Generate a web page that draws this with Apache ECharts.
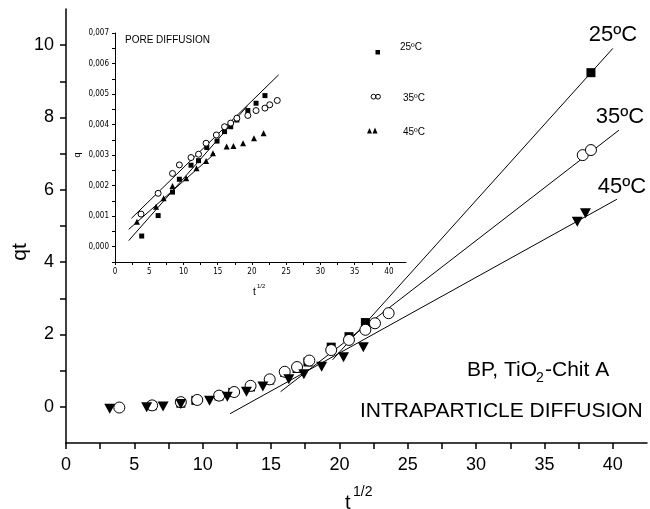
<!DOCTYPE html>
<html>
<head>
<meta charset="utf-8">
<title>Intraparticle diffusion</title>
<script src="https://cdn.jsdelivr.net/npm/echarts@6/dist/echarts.min.js"></script>
<style>
  html, body { margin: 0; padding: 0; background: #fff; }
  #chart { width: 650px; height: 509px; }
</style>
</head>
<body>
<div id="chart"></div>
<script>
// main plot: qt vs t^1/2
var main25 = [[6.3,0.03],[8.4,0.10],[9.5,0.18],[11.2,0.30],[12.2,0.40],[13.5,0.55],[14.9,0.74],[16.0,0.95],[16.9,1.06],[17.7,1.24],[19.4,1.65],[20.7,1.94],[21.9,2.33],[38.4,9.24]];
var main35 = [[3.9,-0.02],[6.3,0.04],[8.4,0.13],[9.6,0.19],[11.2,0.31],[12.3,0.41],[13.5,0.58],[14.9,0.76],[16.0,0.97],[16.9,1.10],[17.8,1.28],[19.4,1.57],[20.7,1.85],[21.9,2.13],[22.6,2.31],[23.6,2.59],[37.8,6.96],[38.4,7.10]];
var main45 = [[3.2,-0.05],[5.9,-0.01],[7.1,0.01],[8.4,0.08],[10.5,0.17],[11.8,0.28],[13.2,0.42],[14.4,0.56],[16.3,0.76],[17.4,0.90],[18.7,1.11],[20.3,1.37],[21.75,1.65],[37.4,5.12],[38.0,5.35]];
var fit25 = [[19.5,1.30],[40.0,9.91]];
var fit35 = [[15.7,0.42],[40.45,7.65]];
var fit45 = [[12.0,-0.19],[40.3,5.74]];

// inset: q vs t^1/2 (pore diffusion)
var pore25 = [[3.9,0.00035],[6.3,0.00102],[8.4,0.00179],[9.4,0.00221],[11.1,0.00267],[12.2,0.00282],[13.4,0.00325],[14.9,0.00346],[16.0,0.00377],[16.9,0.00393],[17.8,0.00415],[19.4,0.00446],[20.6,0.00470],[21.9,0.00495]];
var pore35 = [[3.8,0.00107],[6.3,0.00175],[8.4,0.00240],[9.4,0.00268],[11.1,0.00292],[12.2,0.00303],[13.3,0.00339],[14.8,0.00366],[16.0,0.00393],[16.9,0.00405],[17.8,0.00421],[19.4,0.00430],[20.6,0.00446],[21.9,0.00454],[22.6,0.00465],[23.7,0.00479]];
var pore45 = [[3.2,0.00082],[6.0,0.00131],[7.1,0.00159],[8.4,0.00199],[10.4,0.00224],[11.9,0.00257],[13.3,0.00281],[14.3,0.00306],[16.3,0.00328],[17.3,0.00330],[18.7,0.00339],[20.3,0.00355],[21.7,0.00372]];
var poreFit25 = [[2.0,0.0002],[19.3,0.0046]];
var poreFit35 = [[2.4,0.00093],[23.9,0.00563]];
var poreFit45 = [[2.0,0.00057],[14.6,0.00306]];

var font = '"Liberation Sans", Arial, sans-serif';
var narrow = '"Liberation Sans Narrow", "DejaVu Sans Condensed", Arial, sans-serif';

var chart = echarts.init(document.getElementById('chart'));

function fitLine(data, xi, yi) {
  return {
    type: 'line', xAxisIndex: xi, yAxisIndex: yi, data: data,
    symbol: 'none', silent: true, z: 1,
    lineStyle: { color: '#000', width: 1 }
  };
}
function pts(data, xi, yi, sym, size, filled, rot, z) {
  return {
    type: 'scatter', xAxisIndex: xi, yAxisIndex: yi, data: data,
    symbol: sym, symbolSize: size, symbolRotate: rot || 0, z: z,
    itemStyle: filled ? { color: '#000', opacity: 1 } : { color: '#fff', borderColor: '#000', borderWidth: 1, opacity: 1 }
  };
}

var option = {
  animation: false,
  backgroundColor: '#fff',
  textStyle: { fontFamily: font },
  grid: [
    { left: 66, right: 3, top: 9, bottom: 66 },
    { left: 115, right: 244, top: 33, bottom: 247 }
  ],
  xAxis: [{
    gridIndex: 0, type: 'value', min: 0, max: 42.5, interval: 2.5,
    splitLine: { show: false },
    axisLine: { onZero: false, lineStyle: { color: '#000', width: 1.5 } },
    axisTick: { inside: false, length: 6, lineStyle: { color: '#000', width: 1.5 } },
    axisLabel: {
      color: '#000', fontSize: 18, margin: 13, showMaxLabel: false,
      formatter: function (v) { return v % 5 === 0 ? String(v) : ''; }
    }
  }, {
    gridIndex: 1, type: 'value', min: 0, max: 42.5, interval: 2.5,
    splitLine: { show: false },
    axisLine: { onZero: false, lineStyle: { color: '#000', width: 1 } },
    axisTick: { length: 3, lineStyle: { color: '#000' } },
    axisLabel: {
      color: '#000', fontSize: 8, margin: 6, fontFamily: narrow, showMaxLabel: false,
      formatter: function (v) { return v % 5 === 0 ? String(v) : ''; }
    }
  }],
  yAxis: [{
    gridIndex: 0, type: 'value', min: -1, max: 11, interval: 1,
    splitLine: { show: false },
    axisLine: { onZero: false, lineStyle: { color: '#000', width: 1.5 } },
    axisTick: { length: 6, lineStyle: { color: '#000', width: 1.5 } },
    axisLabel: {
      color: '#000', fontSize: 18, margin: 12, showMaxLabel: false, showMinLabel: false,
      formatter: function (v) { return v % 2 === 0 ? String(v) : ''; }
    }
  }, {
    gridIndex: 1, type: 'value', min: -0.0005, max: 0.007, interval: 0.0005,
    splitLine: { show: false },
    axisLine: { onZero: false, lineStyle: { color: '#000', width: 1 } },
    axisTick: { length: 3, lineStyle: { color: '#000' } },
    axisLabel: {
      color: '#000', fontSize: 8, margin: 6, fontFamily: narrow,
      formatter: function (v) {
        var k = Math.round(v * 2000);
        if (k % 2 !== 0 || k < 0) return '';
        return v.toFixed(3).replace('.', ',');
      }
    }
  }],
  series: [
    fitLine(fit25, 0, 0), fitLine(fit35, 0, 0), fitLine(fit45, 0, 0),
    pts(main25, 0, 0, 'rect', 9, true, 0, 2),
    pts(main35, 0, 0, 'circle', 11, false, 0, 3),
    pts(main45, 0, 0, 'triangle', [11, 10], true, 180, 4),
    fitLine(poreFit25, 1, 1), fitLine(poreFit35, 1, 1), fitLine(poreFit45, 1, 1),
    pts(pore25, 1, 1, 'rect', 5, true, 0, 2),
    pts(pore35, 1, 1, 'circle', 6, false, 0, 3),
    pts(pore45, 1, 1, 'triangle', 6, true, 0, 4)
  ],
  graphic: [
    // main labels
    { type: 'text', x: 20, y: 252, rotation: Math.PI / 2, style: { text: 'qt', font: '21px ' + font, fill: '#000', align: 'center', verticalAlign: 'middle' } },
    { type: 'text', x: 345, y: 503, style: { text: 't', font: '20px ' + font, fill: '#000', verticalAlign: 'middle' } },
    { type: 'text', x: 353, y: 492, style: { text: '1/2', font: '14px ' + font, fill: '#000', verticalAlign: 'middle' } },
    { type: 'text', x: 613, y: 35, style: { text: '25ºC', font: '22px ' + font, fill: '#000', align: 'center', verticalAlign: 'middle' } },
    { type: 'text', x: 620, y: 117, style: { text: '35ºC', font: '22px ' + font, fill: '#000', align: 'center', verticalAlign: 'middle' } },
    { type: 'text', x: 622, y: 187, style: { text: '45ºC', font: '22px ' + font, fill: '#000', align: 'center', verticalAlign: 'middle' } },
    { type: 'text', x: 467, y: 370, style: { text: 'BP, TiO', font: '21px ' + font, fill: '#000', verticalAlign: 'middle' } },
    { type: 'text', x: 536, y: 378, style: { text: '2', font: '14px ' + font, fill: '#000', verticalAlign: 'middle' } },
    { type: 'text', x: 545, y: 370, style: { text: '-Chit A', font: '21px ' + font, fill: '#000', verticalAlign: 'middle' } },
    { type: 'text', x: 360, y: 411, style: { text: 'INTRAPARTICLE DIFFUSION', font: '21px ' + font, fill: '#000', verticalAlign: 'middle' } },
    // inset labels
    { type: 'text', x: 125, y: 40, style: { text: 'PORE DIFFUSION', font: '10px ' + font, fill: '#000', verticalAlign: 'middle' } },
    { type: 'text', x: 78, y: 155, rotation: Math.PI / 2, style: { text: 'q', font: '9px ' + font, fill: '#000', align: 'center', verticalAlign: 'middle' } },
    { type: 'text', x: 253, y: 292, style: { text: 't', font: '10px ' + font, fill: '#000', verticalAlign: 'middle' } },
    { type: 'text', x: 257, y: 286, style: { text: '1/2', font: '6px ' + font, fill: '#000', verticalAlign: 'middle' } },
    // inset legend
    { type: 'rect', shape: { x: 375.5, y: 50, width: 4.5, height: 4.5 }, style: { fill: '#000' } },
    { type: 'text', x: 400, y: 47, style: { text: '25ºC', font: '10px ' + font, fill: '#000', verticalAlign: 'middle' } },
    { type: 'circle', shape: { cx: 373.5, cy: 96.7, r: 2.4 }, style: { fill: 'none', stroke: '#000', lineWidth: 1 } },
    { type: 'circle', shape: { cx: 378, cy: 96.7, r: 2.4 }, style: { fill: 'none', stroke: '#000', lineWidth: 1 } },
    { type: 'text', x: 403, y: 98, style: { text: '35ºC', font: '10px ' + font, fill: '#000', verticalAlign: 'middle' } },
    { type: 'polygon', shape: { points: [[367, 133.5], [372, 133.5], [369.5, 128]] }, style: { fill: '#000' } },
    { type: 'polygon', shape: { points: [[372.5, 133.5], [377.5, 133.5], [375, 127.5]] }, style: { fill: '#000' } },
    { type: 'text', x: 403, y: 132, style: { text: '45ºC', font: '10px ' + font, fill: '#000', verticalAlign: 'middle' } }
  ]
};
chart.setOption(option);
</script>
</body>
</html>
